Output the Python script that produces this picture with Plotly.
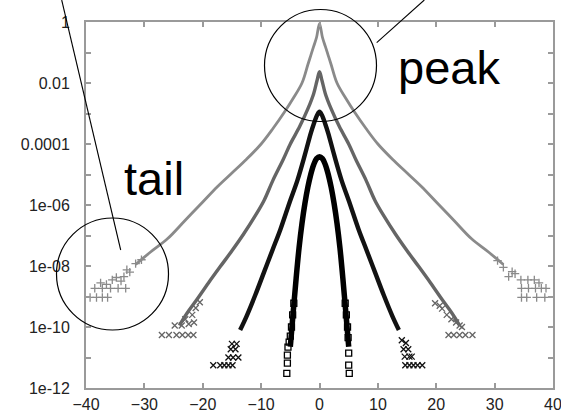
import plotly.graph_objects as go

# ---- data: probability density versus return, four time scales ----
# outermost curve (widest tails)
x1 = [-31.5, -29, -26, -23, -20, -17.5, -15, -12.5, -10, -8, -6, -4.5, -3, -2, -1.5, -1, -0.5,
      0, 0.5, 1, 1.5, 2, 3, 4.5, 6, 8, 10, 12.5, 15, 17.5, 20, 23, 26, 29, 31.5]
y1 = [1.12e-8, 2.82e-8, 7.94e-8, 3.16e-7, 1.26e-6, 3.98e-6, 1.12e-5, 3.16e-5, 1.0e-4, 3.16e-4,
      1.12e-3, 3.16e-3, 1.0e-2, 3.98e-2, 7.94e-2, 0.158, 0.316,
      0.89, 0.316, 0.158, 7.94e-2, 3.98e-2, 1.0e-2, 3.16e-3, 1.12e-3, 3.16e-4, 1.0e-4, 3.16e-5,
      1.12e-5, 3.98e-6, 1.26e-6, 3.16e-7, 7.94e-8, 2.82e-8, 1.12e-8]

# second curve
x2 = [-24, -22.7, -21, -19, -17, -15, -13, -11, -9.5, -8, -6.2, -5, -3.4, -2, -1, -0.4,
      0, 0.4, 1, 2, 3.4, 5, 6.2, 8, 9.5, 11, 13, 15, 17, 19, 21, 22.7, 24]
y2 = [1.12e-10, 2.82e-10, 7.94e-10, 2.82e-9, 9.55e-9, 3.16e-8, 1.12e-7, 4.47e-7, 1.41e-6, 6.31e-6,
      3.16e-5, 1.0e-4, 3.72e-4, 1.41e-3, 4.47e-3, 1.26e-2,
      2.34e-2, 1.26e-2, 4.47e-3, 1.41e-3, 3.72e-4, 1.0e-4, 3.16e-5, 6.31e-6, 1.41e-6, 4.47e-7,
      1.12e-7, 3.16e-8, 9.55e-9, 2.82e-9, 7.94e-10, 2.82e-10, 1.12e-10]

# third curve
x3 = [-13.6, -12.5, -11, -9.5, -8, -6.7, -5.1, -3.8, -2.5, -1.5, -1, -0.4,
      0, 0.4, 1, 1.5, 2.5, 3.8, 5.1, 6.7, 8, 9.5, 11, 12.5, 13.6]
y3 = [7.94e-11, 2.24e-10, 1.12e-9, 6.31e-9, 3.55e-8, 1.58e-7, 1.26e-6, 6.31e-6, 4.47e-5, 2.24e-4,
      4.47e-4, 8.91e-4,
      1.15e-3, 8.91e-4, 4.47e-4, 2.24e-4, 4.47e-5, 6.31e-6, 1.26e-6, 1.58e-7, 3.55e-8, 6.31e-9,
      1.12e-9, 2.24e-10, 7.94e-11]

# innermost curve (near-Gaussian)
x4 = [-5, -4.5, -4, -3.5, -3, -2.5, -2, -1.5, -1, -0.5,
      0, 0.5, 1, 1.5, 2, 2.5, 3, 3.5, 4, 4.5, 5]
y4 = [2.24e-11, 3.16e-10, 3.98e-9, 3.98e-8, 2.51e-7, 1.12e-6, 3.8e-6, 1.0e-5, 2.09e-5, 3.31e-5,
      3.8e-5, 3.31e-5, 2.09e-5, 1.0e-5, 3.8e-6, 1.12e-6, 2.51e-7, 3.98e-8, 3.98e-9, 3.16e-10,
      2.24e-11]

# sparse tail samples (few counts per bin)
tx1 = [-30.5, -31.5, -32.5, -33.0, -33.5, -34.0, -34.8, -35.5, -36.5, -37.5,
       -33.2, -34.5, -35.8, -37.2, -38.5,
       -36.3, -37.2, -38.2, -39.3,
       30.5, 31.5, 32.4, 33.0, 33.5, 34.5, 35.7, 36.8, 37.6,
       34.6, 35.8, 37.0, 38.0, 38.8, 34.6, 35.5, 37.2, 38.6]
ty1 = [1.6e-8, 1.2e-8, 6.3e-9, 7.5e-9, 4.5e-9, 3.2e-9, 4.2e-9, 3.5e-9, 2.5e-9, 2.8e-9,
       1.86e-9, 1.86e-9, 1.86e-9, 1.86e-9, 1.86e-9,
       9.3e-10, 9.3e-10, 9.3e-10, 9.3e-10,
       1.5e-8, 9.0e-9, 4.5e-9, 6.5e-9, 5.6e-9, 3.5e-9, 3.5e-9, 3.5e-9, 2.8e-9,
       1.86e-9, 1.86e-9, 1.86e-9, 1.86e-9, 1.86e-9, 9.3e-10, 9.3e-10, 9.3e-10, 9.3e-10]

tx2 = [-20.5, -21.2, -21.8, -23.0, -21.5, -22.4, -23.6, -24.8, -21.6, -22.5, -23.5, -24.5,
       -25.8, -27.0,
       19.8, 20.6, 21.0, 21.8, 22.6, 23.4, 24.0, 24.4, 22.1, 23.0, 24.0, 25.0, 26.2]
ty2 = [6.5e-10, 4.2e-10, 2.5e-10, 1.8e-10, 1.4e-10, 1.26e-10, 1.12e-10, 1.12e-10, 5.5e-11, 5.5e-11,
       5.5e-11, 5.5e-11, 5.5e-11, 5.5e-11,
       6.0e-10, 5.0e-10, 4.0e-10, 2.5e-10, 1.8e-10, 1.4e-10, 1.12e-10, 1.0e-10, 5.5e-11, 5.5e-11,
       5.5e-11, 5.5e-11, 5.5e-11]

tx3 = [-14.2, -15.0, -14.4, -15.2, -13.9, -14.8, -15.6, -14.9, -15.6, -16.3, -17.0, -18.2,
       14.1, 14.8, 14.4, 15.2, 14.6, 15.4, 15.8, 14.7, 15.4, 16.1, 16.8, 17.6]
ty3 = [2.8e-11, 2.8e-11, 1.86e-11, 1.86e-11, 1.0e-11, 1.0e-11, 1.0e-11, 5.6e-12, 5.6e-12, 5.6e-12,
       5.6e-12, 5.6e-12,
       3.7e-11, 3.0e-11, 1.86e-11, 1.86e-11, 1.07e-11, 1.07e-11, 1.07e-11, 5.6e-12, 5.6e-12, 5.6e-12,
       5.6e-12, 5.6e-12]

tx4 = [-4.4, -4.6, -4.8, -5.0, -5.2, -5.4, -5.5, -5.5, -5.6,
       4.4, 4.6, 4.8, 4.9, 5.0, 5.0, 5.1]
ty4 = [6.0e-10, 2.5e-10, 1.0e-10, 5.0e-11, 3.2e-11, 2.2e-11, 1.2e-11, 6.5e-12, 3.0e-12,
       6.0e-10, 2.5e-10, 1.0e-10, 4.5e-11, 1.4e-11, 5.6e-12, 3.0e-12]

x_ticks = [-40, -30, -20, -10, 0, 10, 20, 30, 40]
y_ticks = [1, 1e-1, 1e-2, 1e-3, 1e-4, 1e-5, 1e-6, 1e-7, 1e-8, 1e-9, 1e-10, 1e-11, 1e-12]
y_tick_text = ["1", "", "0.01", "", "0.0001", "", "1e-06", "", "1e-08", "", "1e-10", "", "1e-12"]

# ---- figure ----
W, H = 561, 414
ML, MR, MT, MB = 86, 8, 22, 26
PW, PH = W - ML - MR, H - MT - MB


def px(xp):
    return (xp - ML) / PW


def py(yp):
    return (H - MB - yp) / PH


fig = go.Figure()

curves = [
    (x1, y1, "#8a8a8a", 2.8),
    (x2, y2, "#656565", 3.4),
    (x3, y3, "#121212", 4.4),
    (x4, y4, "#000000", 5.5),
]
for xs, ys, col, w in curves:
    fig.add_trace(go.Scatter(x=xs, y=ys, mode="lines",
                             line=dict(color=col, width=w, shape="spline", smoothing=1.0),
                             hoverinfo="skip", showlegend=False))

tails = [
    (tx1, ty1, "cross-thin-open", "#8a8a8a", 6),
    (tx2, ty2, "x-thin-open", "#656565", 6),
    (tx3, ty3, "x-thin-open", "#121212", 6),
    (tx4, ty4, "square-open", "#000000", 6),
]
for xs, ys, sym, col, sz in tails:
    fig.add_trace(go.Scatter(x=xs, y=ys, mode="markers",
                             marker=dict(symbol=sym, size=sz, color=col,
                                         line=dict(color=col, width=1.3)),
                             hoverinfo="skip", showlegend=False))

axis_font = dict(family="Liberation Sans, Arial, sans-serif", size=16, color="#222222")

fig.update_xaxes(range=[-40, 40], tickvals=x_ticks, ticks="inside", ticklen=5,
                 tickcolor="#9a9a9a", tickwidth=1.5, showline=True, linecolor="#9a9a9a",
                 linewidth=2, mirror="ticks", showgrid=False, zeroline=False,
                 tickfont=axis_font, ticklabelstandoff=1, automargin=False,
                 ticklabeloverflow="allow")
fig.update_yaxes(type="log", range=[-12, 0], tickvals=y_ticks, ticktext=y_tick_text,
                 ticks="inside", ticklen=5, tickcolor="#9a9a9a", tickwidth=1.5,
                 showline=True, linecolor="#9a9a9a", linewidth=2, mirror="ticks",
                 showgrid=False, zeroline=False, tickfont=axis_font, ticklabelstandoff=11,
                 automargin=False, ticklabeloverflow="allow")

# callout circles and leader lines
shapes = [
    dict(type="circle", xref="paper", yref="paper",
         x0=px(264.5), x1=px(376.5), y0=py(121.5), y1=py(9.5),
         line=dict(color="black", width=1.2), layer="above"),
    dict(type="circle", xref="paper", yref="paper",
         x0=px(56.5), x1=px(168.5), y0=py(330), y1=py(218),
         line=dict(color="black", width=1.2), layer="above"),
    dict(type="line", xref="paper", yref="paper",
         x0=px(376.7), y0=py(42.7), x1=px(424.3), y1=py(0),
         line=dict(color="black", width=1.1), layer="above"),
    dict(type="line", xref="paper", yref="paper",
         x0=px(61.7), y0=py(0), x1=px(120.7), y1=py(250),
         line=dict(color="black", width=1.1), layer="above"),
]

label_font = dict(family="Liberation Sans, Arial, sans-serif", size=47, color="black")
annotations = [
    dict(text="peak", xref="paper", yref="paper", x=px(396), y=py(67),
         xanchor="left", yanchor="middle", showarrow=False, font=label_font),
    dict(text="tail", xref="paper", yref="paper", x=px(122), y=py(178),
         xanchor="left", yanchor="middle", showarrow=False, font=label_font),
]

fig.update_layout(width=W, height=H, margin=dict(l=ML, r=MR, t=MT, b=MB),
                  paper_bgcolor="white", plot_bgcolor="white",
                  shapes=shapes, annotations=annotations)

fig.write_html("out.html")
